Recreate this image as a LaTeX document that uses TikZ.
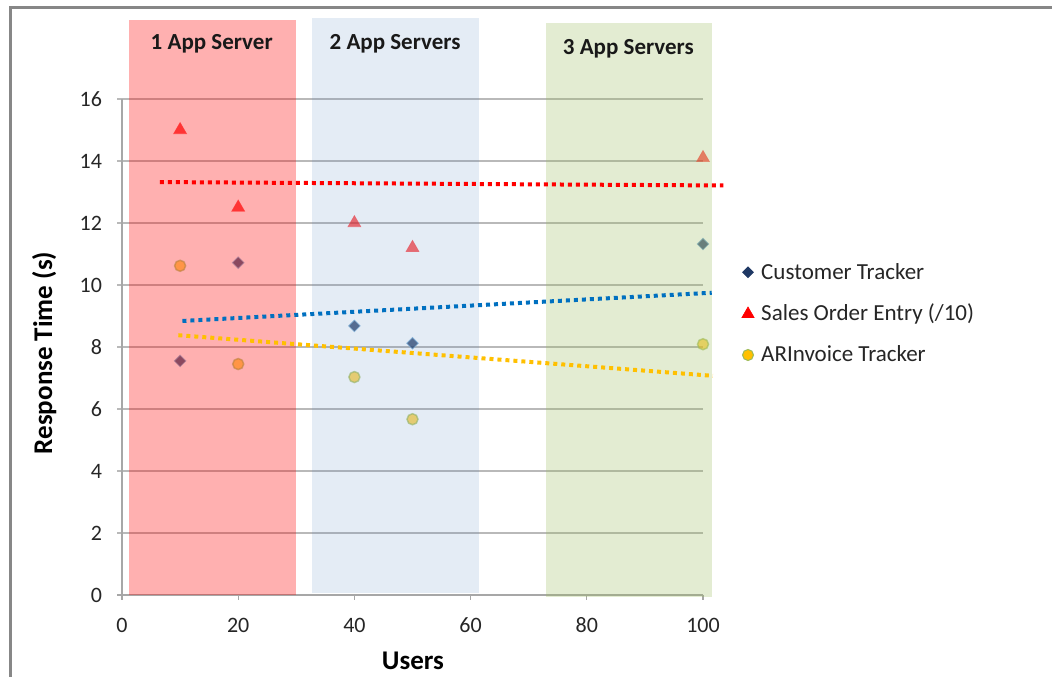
\documentclass[tikz,border=0pt]{standalone}
\usepackage{fontspec}
\setmainfont{Carlito}
\usetikzlibrary{shapes.geometric}

\definecolor{bandred}{RGB}{255,0,0}
\definecolor{bandblue}{RGB}{79,129,189}
\definecolor{bandgreen}{RGB}{155,187,89}
\definecolor{gridgray}{RGB}{185,185,185}
\definecolor{framegray}{RGB}{135,135,135}
\definecolor{ctnavy}{RGB}{31,56,100}
\definecolor{trendblue}{RGB}{0,112,192}
\definecolor{aryellow}{RGB}{255,192,0}
\definecolor{argreen}{RGB}{155,187,89}

\tikzset{
    ctmark/.style={diamond, fill=ctnavy, draw=trendblue!45, line width=0.8pt, inner sep=0pt, minimum size=12pt},
    somark/.style={regular polygon, regular polygon sides=3, fill=red, draw=red!70!white, line width=0.6pt, inner sep=0pt, minimum size=15pt},
    armark/.style={circle, fill=aryellow, draw=argreen, line width=1.5pt, inner sep=0pt, minimum size=11pt},
    trendline/.style={line width=4pt, dash pattern=on 4pt off 4pt},
    ticklabel/.style={inner sep=0pt, font=\fontsize{22}{24}\selectfont, text=black!85},
    banner/.style={inner sep=0pt, anchor=base, font=\fontsize{23}{25}\selectfont\bfseries, text=black!90},
    axistitle/.style={inner sep=0pt, anchor=base, font=\fontsize{27}{29}\selectfont\bfseries},
    legendtext/.style={inner sep=0pt, anchor=base west, font=\fontsize{23}{25}\selectfont, text=black!85}
}

\begin{document}
\begin{tikzpicture}[x=1pt,y=1pt]
    \useasboundingbox (0,0) rectangle (1052,677);
    \fill[white] (0,0) rectangle (1052,677);
    \draw[framegray, line width=3pt] (10,0) -- (10,669) -- (1052,669);

    \begin{scope}[shift={(122,82)}, x=5.81pt, y=31pt]
        % grid and axes
        \draw[gridgray, line width=1.3pt] (-0.86,2) -- (100,2);
        \draw[gridgray, line width=1.3pt] (-0.86,4) -- (100,4);
        \draw[gridgray, line width=1.3pt] (-0.86,6) -- (100,6);
        \draw[gridgray, line width=1.3pt] (-0.86,8) -- (100,8);
        \draw[gridgray, line width=1.3pt] (-0.86,10) -- (100,10);
        \draw[gridgray, line width=1.3pt] (-0.86,12) -- (100,12);
        \draw[gridgray, line width=1.3pt] (-0.86,14) -- (100,14);
        \draw[gridgray, line width=1.3pt] (-0.86,16) -- (100,16);
        \draw[gridgray!90!black, line width=1.5pt] (0,0) -- (0,16);
        \draw[gridgray!90!black, line width=1.5pt] (-0.86,0) -- (100,0);
        \draw[gridgray!90!black, line width=1.3pt] (0,0) -- (0,-0.17);
        \draw[gridgray!90!black, line width=1.3pt] (20,0) -- (20,-0.17);
        \draw[gridgray!90!black, line width=1.3pt] (40,0) -- (40,-0.17);
        \draw[gridgray!90!black, line width=1.3pt] (60,0) -- (60,-0.17);
        \draw[gridgray!90!black, line width=1.3pt] (80,0) -- (80,-0.17);
        \draw[gridgray!90!black, line width=1.3pt] (100,0) -- (100,-0.17);

        \node[ticklabel, anchor=east] (Y0) at (-3.4,0) {0};
        \node[ticklabel, anchor=east] (Y2) at (-3.4,2) {2};
        \node[ticklabel, anchor=east] (Y4) at (-3.4,4) {4};
        \node[ticklabel, anchor=east] (Y6) at (-3.4,6) {6};
        \node[ticklabel, anchor=east] (Y8) at (-3.4,8) {8};
        \node[ticklabel, anchor=east] (Y10) at (-3.4,10) {10};
        \node[ticklabel, anchor=east] (Y12) at (-3.4,12) {12};
        \node[ticklabel, anchor=east] (Y14) at (-3.4,14) {14};
        \node[ticklabel, anchor=east] (Y16) at (-3.4,16) {16};

        \node[ticklabel] (X0) at (0,-0.97) {0};
        \node[ticklabel] (X20) at (20,-0.97) {20};
        \node[ticklabel] (X40) at (40,-0.97) {40};
        \node[ticklabel] (X60) at (60,-0.97) {60};
        \node[ticklabel] (X80) at (80,-0.97) {80};
        \node[ticklabel] (X100) at (100,-0.97) {100};

        % data points
        \node[ctmark, opacity=0.75] (C1) at (10,7.55) {};
        \node[ctmark, opacity=0.75] (C2) at (20,10.72) {};
        \node[ctmark, opacity=0.75] (C3) at (40,8.68) {};
        \node[ctmark, opacity=0.75] (C4) at (50,8.12) {};
        \node[ctmark, opacity=0.75] (C5) at (100,11.32) {};

        \node[somark, opacity=0.7] (S1) at (10,15.0) {};
        \node[somark, opacity=0.7] (S2) at (20,12.5) {};
        \node[somark, opacity=0.6] (S3) at (40,12.0) {};
        \node[somark, opacity=0.6] (S4) at (50,11.2) {};
        \node[somark, opacity=0.6] (S5) at (100,14.1) {};

        \node[armark, opacity=0.6] (A1) at (10,10.62) {};
        \node[armark, opacity=0.6] (A2) at (20,7.45) {};
        \node[armark, opacity=0.6] (A3) at (40,7.03) {};
        \node[armark, opacity=0.6] (A4) at (50,5.67) {};
        \node[armark, opacity=0.6] (A5) at (100,8.09) {};

        % server bands
        \fill[bandred, fill opacity=0.31] (1.2,0) rectangle (29.95,18.55);
        \fill[bandblue, fill opacity=0.15] (32.75,0.07) rectangle (61.45,18.6);
        \fill[bandgreen, fill opacity=0.27] (72.9,-0.07) rectangle (101.6,18.44);

        \node[banner] (B1) at (15.44,17.6) {1 App Server};
        \node[banner] (B2) at (47.0,17.6) {2 App Servers};
        \node[banner] (B3) at (87.15,17.45) {3 App Servers};

        % trend lines
        \coordinate (R0) at (6.5,13.32);
        \coordinate (R1) at (103.5,13.21);
        \coordinate (U0) at (10.4,8.84);
        \coordinate (U1) at (101.5,9.75);
        \coordinate (W0) at (9.7,8.38);
        \coordinate (W1) at (101.7,7.07);
        \draw[red, trendline] (R0) -- (R1);
        \draw[trendblue, trendline] (U0) -- (U1);
        \draw[aryellow, trendline] (W0) -- (W1);
    \end{scope}

    \node[axistitle, rotate=90] (ytitle) at (52,324) {Response Time (s)};
    \node[axistitle] (xtitle) at (413,7) {Users};

    % legend
    \node[ctmark, fill=ctnavy, draw=ctnavy, minimum size=11pt] (LC) at (748,404.7) {};
    \node[somark, draw=red, minimum size=14pt] (LS) at (748,363) {};
    \node[armark, line width=1pt] (LA) at (748,322) {};
    \node[legendtext] (TC) at (761,397.7) {Customer Tracker};
    \node[legendtext] (TS) at (761,356.3) {Sales Order Entry (/10)};
    \node[legendtext] (TA) at (761,315.3) {ARInvoice Tracker};
\end{tikzpicture}
\end{document}
